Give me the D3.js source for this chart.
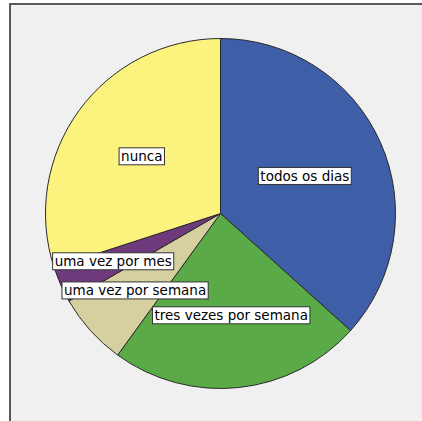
<!DOCTYPE html>
<html>
<head>
<meta charset="utf-8">
<script src="https://cdn.jsdelivr.net/npm/d3@7"></script>
<style>
  html, body { margin: 0; padding: 0; background: #ffffff; }
  svg { display: block; }
</style>
</head>
<body>
<svg id="chart" width="422" height="421"></svg>
<script>
// Data (frequency counts)
const categories = ["todos os dias", "tres vezes por semana", "uma vez por semana", "uma vez por mes", "nunca"];
const counts = [11, 7, 2, 1, 9];
const colors = ["#3e5ea8", "#5aab48", "#d6d0a0", "#6e3a7c", "#fcf27e"];

const W = 422, H = 421;
const svg = d3.select("#chart");

// panel background and frame
svg.append("rect").attr("x", 10).attr("y", 4).attr("width", W - 10).attr("height", H - 4)
  .attr("fill", "#f0f0f0");
svg.append("path").attr("d", `M10,${H} L10,4 L${W},4`)
  .attr("fill", "none").attr("stroke", "#5a5a5a").attr("stroke-width", 2);

const cx = 220.5, cy = 213.5, R = 175;
const g = svg.append("g").attr("transform", `translate(${cx},${cy})`);

const table = categories.map((c, i) => ({ cat: c, value: counts[i], color: colors[i] }));
const pie = d3.pie().value(d => d.value).sort(null);
const arcs = pie(table);
const arc = d3.arc().innerRadius(0).outerRadius(R);

g.selectAll("path.slice").data(arcs).join("path")
  .attr("class", "slice")
  .attr("d", arc)
  .attr("fill", d => d.data.color)
  .attr("stroke", "#2a2a2a")
  .attr("stroke-width", 1)
  .attr("stroke-linejoin", "round");

// labels
const total = d3.sum(counts);
const lab = g.selectAll("g.lab").data(arcs).join("g").attr("class", "lab")
  .attr("transform", d => {
    const frac = d.data.value / total;
    const r = 120 - 75.6 * frac;
    const a = (d.startAngle + d.endAngle) / 2;
    return `translate(${r * Math.sin(a)},${-r * Math.cos(a)})`;
  });
const txt = lab.append("text")
  .attr("text-anchor", "middle")
  .attr("dy", "0.36em")
  .attr("font-family", "'DejaVu Sans', sans-serif")
  .attr("font-size", 13.5)
  .attr("fill", "#000")
  .text(d => d.data.cat);
txt.each(function() {
  const b = this.getBBox();
  d3.select(this.parentNode).insert("rect", "text")
    .attr("x", b.x - 2).attr("y", -8.5)
    .attr("width", b.width + 4).attr("height", 17)
    .attr("fill", "#ffffff")
    .attr("stroke", "#333")
    .attr("stroke-width", 1);
});
</script>
</body>
</html>
